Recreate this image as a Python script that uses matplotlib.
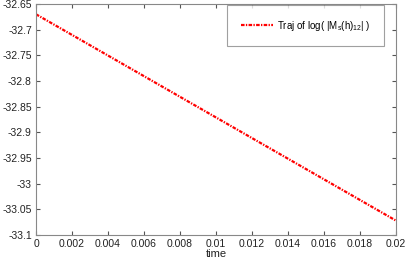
import matplotlib
matplotlib.use("Agg")
import matplotlib.pyplot as plt

# trajectory endpoints
time = [0.0, 0.02]
traj = [-32.670, -33.072]
xticks = [0, 0.002, 0.004, 0.006, 0.008, 0.01, 0.012, 0.014, 0.016, 0.018, 0.02]
xlabels = ["0", "0.002", "0.004", "0.006", "0.008", "0.01", "0.012", "0.014", "0.016", "0.018", "0.02"]
yticks = [-33.1, -33.05, -33, -32.95, -32.9, -32.85, -32.8, -32.75, -32.7, -32.65]
ylabels = ["-33.1", "-33.05", "-33", "-32.95", "-32.9", "-32.85", "-32.8", "-32.75", "-32.7", "-32.65"]

plt.rcParams['font.family'] = ['Liberation Sans', 'DejaVu Sans']
plt.rcParams['mathtext.fontset'] = 'custom'
plt.rcParams['mathtext.rm'] = 'Liberation Sans'
plt.rcParams['mathtext.it'] = 'Liberation Sans'

fig = plt.figure(figsize=(4.05, 2.62), dpi=100)
ax = fig.add_axes([36/405, 27/262, 360/405, 231/262])

ax.plot(time, traj, color='red', linestyle=(0, (1.6, 0.6, 0.6, 0.6)), linewidth=1.6,
        label=r"Traj of log( |M$_\mathrm{s}$(h)$_{\mathrm{12}}$| )")

ax.set_xlim(0, 0.02)
ax.set_ylim(-33.1, -32.65)
ax.set_xticks(xticks)
ax.set_xticklabels(xlabels)
ax.set_yticks(yticks)
ax.set_yticklabels(ylabels)
ax.tick_params(direction='in', top=True, right=True, labelsize=7.5, length=3,
               color='#555555', labelcolor='#222222', pad=3)
for s in ax.spines.values():
    s.set_color('#888888')
    s.set_linewidth(0.8)
ax.set_xlabel("time", fontsize=8, labelpad=0, color='#222222')

leg = ax.legend(loc='upper right', fontsize=7, frameon=True, fancybox=False,
                edgecolor='#888888', handlelength=3.3, handletextpad=0.4,
                borderpad=1.4, borderaxespad=0, bbox_to_anchor=(0.967, 0.996))
leg.get_frame().set_linewidth(0.8)

fig.savefig("out.png", dpi=100)
